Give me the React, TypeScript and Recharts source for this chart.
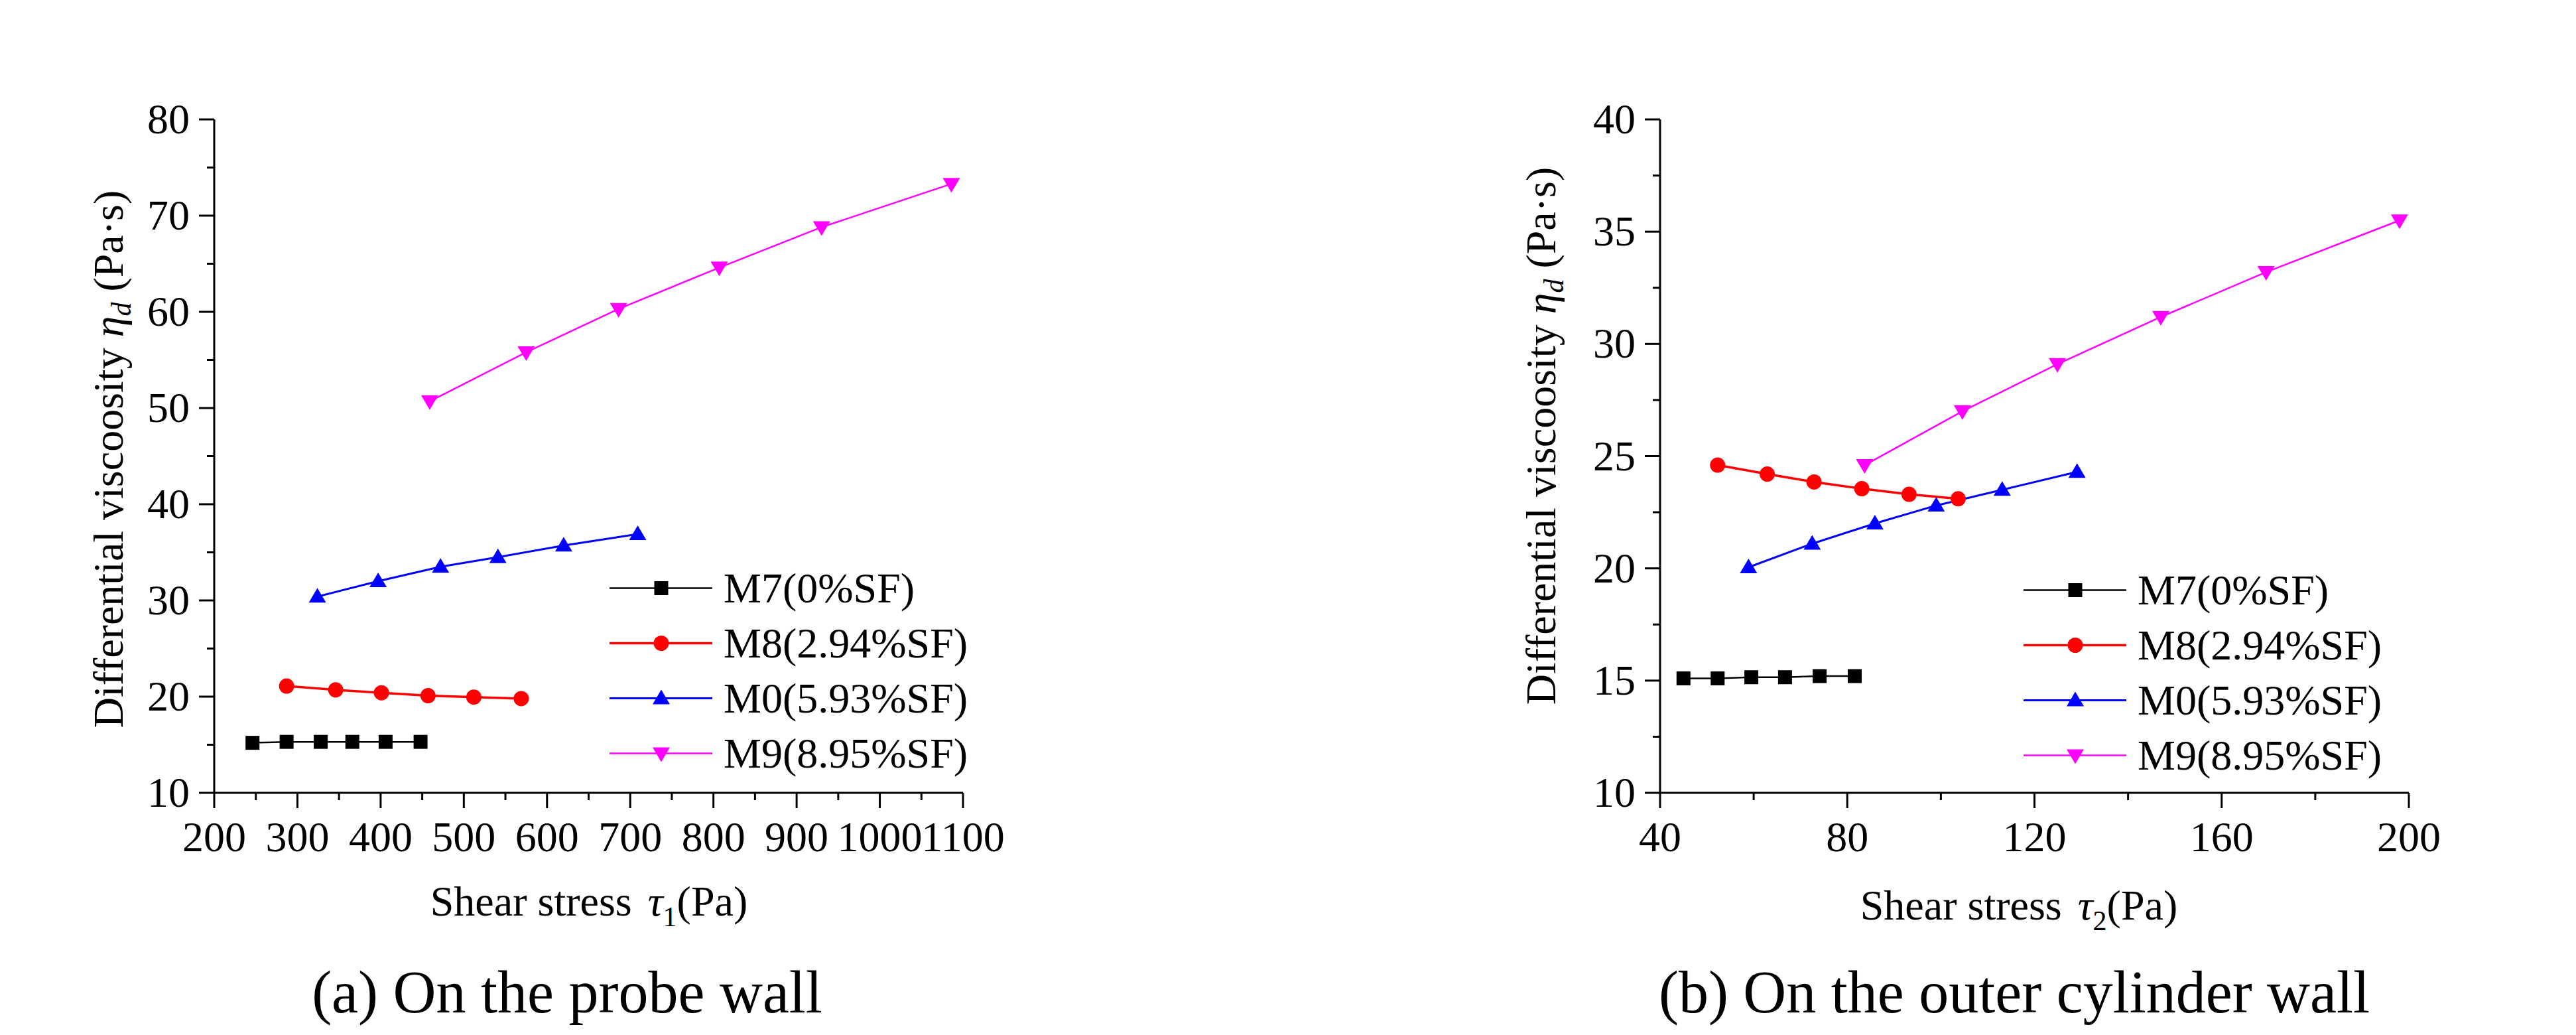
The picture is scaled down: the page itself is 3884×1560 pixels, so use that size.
import { Legend, Line, LineChart, XAxis, YAxis } from "recharts";

// ---- tick values ----
const probeTicksX = [200, 300, 400, 500, 600, 700, 800, 900, 1000, 1100];
const probeMinorX = [250, 350, 450, 550, 650, 750, 850, 950, 1050];
const probeTicksY = [10, 20, 30, 40, 50, 60, 70, 80];
const probeMinorY = [15, 25, 35, 45, 55, 65, 75];

const outerTicksX = [40, 80, 120, 160, 200];
const outerMinorX = [60, 100, 140, 180];
const outerTicksY = [10, 15, 20, 25, 30, 35, 40];
const outerMinorY = [12.5, 17.5, 22.5, 27.5, 32.5, 37.5];

// ---- series names ----
const seriesNames = ["M7(0%SF)", "M8(2.94%SF)", "M0(5.93%SF)", "M9(8.95%SF)"];

// ---- (a) probe wall: shear stress tau1 (Pa) / differential viscosity (Pa·s) ----
const probeM7Stress = [246, 287, 328, 366, 406, 448];
const probeM7Visc = [15.2, 15.3, 15.3, 15.3, 15.3, 15.3];
const probeM8Stress = [287, 346, 401, 457, 512, 569];
const probeM8Visc = [21.1, 20.7, 20.4, 20.1, 19.95, 19.8];
const probeM0Stress = [324, 397, 472, 541, 620, 709];
const probeM0Visc = [30.4, 32.0, 33.5, 34.5, 35.7, 36.9];
const probeM9Stress = [459, 575, 686, 807, 930, 1086];
const probeM9Visc = [50.7, 55.8, 60.3, 64.6, 68.8, 73.3];

// ---- (b) outer cylinder wall: shear stress tau2 (Pa) ----
const outerM7Stress = [45, 52.3, 59.5, 66.7, 74.1, 81.6];
const outerM7Visc = [15.1, 15.1, 15.15, 15.15, 15.2, 15.2];
const outerM8Stress = [52.3, 62.9, 72.9, 83.1, 93.2, 103.7];
const outerM8Visc = [24.6, 24.2, 23.85, 23.55, 23.3, 23.1];
const outerM0Stress = [58.9, 72.5, 85.9, 99, 113.1, 129.1];
const outerM0Visc = [20.05, 21.1, 22.0, 22.8, 23.5, 24.3];
const outerM9Stress = [83.7, 104.6, 124.9, 147, 169.5, 198];
const outerM9Visc = [24.6, 27.0, 29.1, 31.2, 33.2, 35.5];

const FONT = "'Liberation Serif', serif";
const COLORS = ["#000000", "#ff0000", "#0000ff", "#ff00ff"];
const SHAPES = ["square", "circle", "up", "down"];
const WIDTHS = [2.5, 3.5, 3, 2.5];

const zip = (xs: number[], ys: number[]) => xs.map((x, i) => ({ x, y: ys[i] }));

function Marker({ shape, cx, cy, color }: any) {
  if (shape === "square")
    return <rect x={cx - 10.5} y={cy - 10.5} width={21} height={21} fill={color} />;
  if (shape === "circle") return <circle cx={cx} cy={cy} r={11.5} fill={color} />;
  if (shape === "up")
    return (
      <polygon
        points={`${cx},${cy - 13} ${cx - 13},${cy + 9} ${cx + 13},${cy + 9}`}
        fill={color}
      />
    );
  return (
    <polygon
      points={`${cx - 13},${cy - 9} ${cx + 13},${cy - 9} ${cx},${cy + 13}`}
      fill={color}
    />
  );
}

function XTick({ x, y, payload, majors }: any) {
  const major = majors.includes(payload.value);
  return (
    <g>
      <line x1={x} x2={x} y1={y} y2={y + (major ? 23 : 11)} stroke="#000" strokeWidth={3} />
      {major && (
        <text x={x} y={y + 88} textAnchor="middle" fontFamily={FONT} fontSize={64} fill="#000">
          {payload.value}
        </text>
      )}
    </g>
  );
}

function YTick({ x, y, payload, majors }: any) {
  const major = majors.includes(payload.value);
  return (
    <g>
      <line x1={x - (major ? 23 : 11)} x2={x} y1={y} y2={y} stroke="#000" strokeWidth={3} />
      {major && (
        <text x={x - 37} y={y + 21} textAnchor="end" fontFamily={FONT} fontSize={64} fill="#000">
          {payload.value}
        </text>
      )}
    </g>
  );
}

function XTitle({ cx, by, sub }: any) {
  return (
    <text x={cx} y={by} textAnchor="middle" fontFamily={FONT} fontSize={64} fill="#000">
      <tspan>Shear stress </tspan>
      <tspan fontStyle="italic" dx={8}>τ</tspan>
      <tspan fontSize={42} dy={16}>{sub}</tspan>
      <tspan dy={-16}>(Pa)</tspan>
    </text>
  );
}

function YTitle({ bx, cy }: any) {
  return (
    <text
      x={bx}
      y={cy}
      transform={`rotate(-90 ${bx} ${cy})`}
      textAnchor="middle"
      fontFamily={FONT}
      fontSize={64}
      fill="#000"
    >
      <tspan>Differential viscoosity </tspan>
      <tspan fontStyle="italic">η</tspan>
      <tspan fontStyle="italic" fontSize={42} dy={12}>d</tspan>
      <tspan dy={-12}> (Pa·s)</tspan>
    </text>
  );
}

function LegendBox() {
  return (
    <div style={{ fontFamily: FONT, fontSize: 64, color: "#000" }}>
      {seriesNames.map((name, i) => (
        <div key={name} style={{ display: "flex", alignItems: "center", height: 83 }}>
          <svg width={172} height={83} style={{ flex: "none" }}>
            <line x1={0} x2={155} y1={41.5} y2={41.5} stroke={COLORS[i]} strokeWidth={WIDTHS[i]} />
            <Marker shape={SHAPES[i]} cx={78} cy={41.5} color={COLORS[i]} />
          </svg>
          <span style={{ fontFamily: FONT, lineHeight: "83px", whiteSpace: "nowrap" }}>{name}</span>
        </div>
      ))}
    </div>
  );
}

type PanelProps = {
  series: { x: number; y: number }[][];
  xDomain: [number, number];
  yDomain: [number, number];
  xMajor: number[];
  xMinor: number[];
  yMajor: number[];
  yMinor: number[];
  margin: { top: number; right: number; bottom: number; left: number };
  sub: string;
  xTitleX: number;
  xTitleY: number;
  yTitleX: number;
  yTitleY: number;
  legendLeft: number;
  legendTop: number;
};

function Panel(p: PanelProps) {
  return (
    <LineChart width={1942} height={1560} margin={p.margin}>
      <XAxis
        type="number"
        dataKey="x"
        domain={p.xDomain}
        ticks={[...p.xMajor, ...p.xMinor].sort((a, b) => a - b)}
        interval={0}
        allowDataOverflow
        height={120}
        tickSize={0}
        tickMargin={0}
        tickLine={false}
        axisLine={{ stroke: "#000", strokeWidth: 3 }}
        tick={<XTick majors={p.xMajor} />}
        label={<XTitle cx={p.xTitleX} by={p.xTitleY} sub={p.sub} />}
      />
      <YAxis
        type="number"
        dataKey="y"
        domain={p.yDomain}
        ticks={[...p.yMajor, ...p.yMinor].sort((a, b) => a - b)}
        interval={0}
        allowDataOverflow
        width={150}
        tickSize={0}
        tickMargin={0}
        tickLine={false}
        axisLine={{ stroke: "#000", strokeWidth: 3 }}
        tick={<YTick majors={p.yMajor} />}
        label={<YTitle bx={p.yTitleX} cy={p.yTitleY} />}
      />
      {p.series.map((data, i) => (
        <Line
          key={seriesNames[i]}
          name={seriesNames[i]}
          data={data}
          dataKey="y"
          type="linear"
          stroke={COLORS[i]}
          strokeWidth={WIDTHS[i]}
          isAnimationActive={false}
          activeDot={false}
          dot={(d: any) => (
            <Marker
              key={`${seriesNames[i]}-${d.index}`}
              shape={SHAPES[i]}
              cx={d.cx}
              cy={d.cy}
              color={COLORS[i]}
            />
          )}
        />
      ))}
      <Legend
        layout="vertical"
        align="center"
        verticalAlign="middle"
        content={<LegendBox />}
        wrapperStyle={{ left: p.legendLeft, top: p.legendTop, width: 640 }}
      />
    </LineChart>
  );
}

export default function App() {
  const probeSeries = [
    zip(probeM7Stress, probeM7Visc),
    zip(probeM8Stress, probeM8Visc),
    zip(probeM0Stress, probeM0Visc),
    zip(probeM9Stress, probeM9Visc),
  ];
  const outerSeries = [
    zip(outerM7Stress, outerM7Visc),
    zip(outerM8Stress, outerM8Visc),
    zip(outerM0Stress, outerM0Visc),
    zip(outerM9Stress, outerM9Visc),
  ];
  const captionStyle: React.CSSProperties = {
    position: "absolute",
    top: 1446,
    fontFamily: FONT,
    fontSize: 90,
    lineHeight: "100px",
    textAlign: "center",
    width: 1400,
    color: "#000",
    whiteSpace: "nowrap",
  };
  return (
    <div
      style={{
        position: "relative",
        width: 3884,
        height: 1560,
        margin: -8,
        background: "#fff",
        overflow: "hidden",
        fontFamily: FONT,
      }}
    >
      <div style={{ position: "absolute", left: 0, top: 0 }}>
        <Panel
          series={probeSeries}
          xDomain={[200, 1100]}
          yDomain={[10, 80]}
          xMajor={probeTicksX}
          xMinor={probeMinorX}
          yMajor={probeTicksY}
          yMinor={probeMinorY}
          margin={{ top: 180, right: 490, bottom: 245, left: 173 }}
          sub="1"
          xTitleX={888}
          xTitleY={1380}
          yTitleX={185}
          yTitleY={692}
          legendLeft={919}
          legendTop={845}
        />
      </div>
      <div style={{ position: "absolute", left: 1942, top: 0 }}>
        <Panel
          series={outerSeries}
          xDomain={[40, 200]}
          yDomain={[10, 40]}
          xMajor={outerTicksX}
          xMinor={outerMinorX}
          yMajor={outerTicksY}
          yMinor={outerMinorY}
          margin={{ top: 180, right: 252, bottom: 245, left: 411 }}
          sub="2"
          xTitleX={3044 - 1942}
          xTitleY={1386}
          yTitleX={2345 - 1942}
          yTitleY={657}
          legendLeft={3051 - 1942}
          legendTop={848}
        />
      </div>
      <div style={{ ...captionStyle, left: 855 - 700 }}>(a) On the probe wall</div>
      <div style={{ ...captionStyle, left: 3037 - 700 }}>(b) On the outer cylinder wall</div>
    </div>
  );
}
